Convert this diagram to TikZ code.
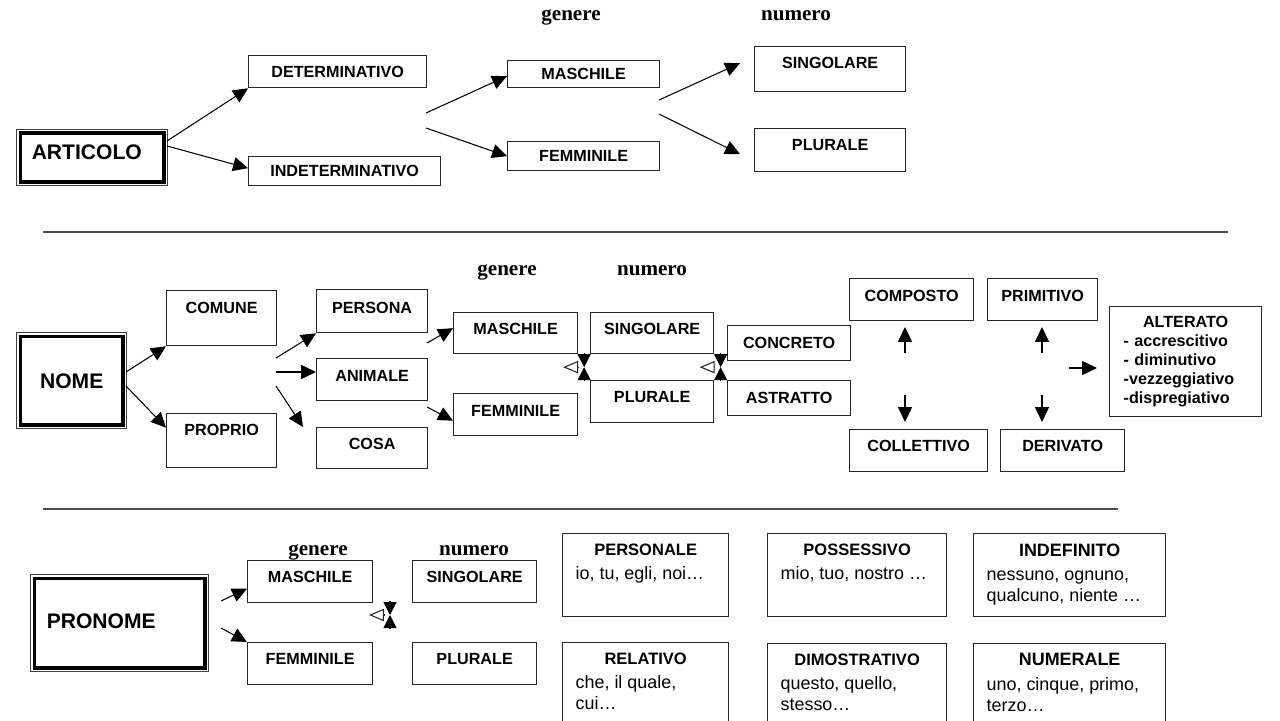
\documentclass[tikz,border=0pt]{standalone}
\usepackage{fontspec}
\setmainfont{Liberation Serif}
\setsansfont{Liberation Sans}
\usetikzlibrary{arrows.meta,calc,fit}
\tikzset{
    box/.style      = {draw=black!85, line width=0.75pt, inner sep=0pt, anchor=north west, align=center,
                       font=\sffamily\bfseries\fontsize{9.2}{11}\selectfont},
    mainbox/.style  = {box, draw=black, line width=2pt, font=\sffamily\bfseries\fontsize{12}{14}\selectfont},
    frame/.style    = {draw=black!75, line width=0.6pt, inner sep=0.035cm},
    catlabel/.style = {anchor=base, font=\rmfamily\bfseries\fontsize{12}{14}\selectfont},
    listbox/.style  = {draw=black!85, line width=0.75pt, anchor=north west, inner xsep=0.26cm, inner ysep=0.2cm,
                       font=\sffamily\fontsize{10.2}{12}\selectfont},
    arr/.style      = {-{Triangle[length=8.5pt,width=8pt]}, line width=0.6pt},
    hgtip/.style    = {-{Triangle[length=7.4pt,width=7.4pt]}, line width=0.6pt},
    hgopen/.style   = {-{Triangle[open,length=8.5pt,width=7pt]}, line width=0.6pt, draw=black!85},
    sepline/.style  = {draw=black!70, line width=0.6pt}
}
% header + lines of a pronoun box
\newcommand{\listtext}[4][9.4]{\parbox[c][1.26cm][t]{#2}{{\centering\bfseries\fontsize{#1}{11.5}\selectfont #3\par}\vspace{2pt}\fontsize{10.2}{12}\selectfont\raggedright #4}}

\begin{document}
\begin{tikzpicture}[x=0.02cm, y=-0.02cm]
    \useasboundingbox (0,0) rectangle (1280,720);
    \clip (0,0) rectangle (1280,720);

    % ARTICOLO
    \node[mainbox, minimum width=2.88cm, minimum height=0.99cm, text width=2.42cm, align=left, text depth=0.22cm] (articolo) at (18.5,131) {ARTICOLO};
    \node[frame, fit=(articolo)] (articolo-f) {};
    \node[box, minimum width=3.56cm, minimum height=0.64cm] (determ) at (248,55) {DETERMINATIVO};
    \node[box, minimum width=3.84cm, minimum height=0.58cm] (indeterm) at (248,156) {INDETERMINATIVO};
    \node[box, minimum width=3.04cm, minimum height=0.54cm] (masc1) at (507,60) {MASCHILE};
    \node[box, minimum width=3.04cm, minimum height=0.58cm] (femm1) at (507,141) {FEMMINILE};
    \node[box, minimum width=3.02cm, minimum height=0.9cm, text depth=0.26cm] (sing1) at (754,46) {SINGOLARE};
    \node[box, minimum width=3.02cm, minimum height=0.86cm, text depth=0.22cm] (plur1) at (754,128) {PLURALE};
    \node[catlabel] (gen1) at (571,20) {genere};
    \node[catlabel] (num1) at (796,20) {numero};

    \coordinate (a1) at (167,141);
    \coordinate (a2) at (167,146);
    \coordinate (g1) at (426,113);
    \coordinate (g2) at (426,128);
    \coordinate (n1) at (659,100);
    \coordinate (n2) at (659,114);
    \draw[arr] (a1) -- (determ.south west);
    \draw[arr] (a2) -- ($(indeterm.west)+(0,-3)$);
    \draw[arr] (g1) -- ($(masc1.west)+(0,2)$);
    \draw[arr] (g2) -- (femm1.west);
    \draw[arr] (n1) -- ($(sing1.west)+(-14,-6)$);
    \draw[arr] (n2) -- ($(plur1.west)+(-14,4)$);

    \draw[sepline] (43,232) -- (1228,232);

    % NOME
    \node[mainbox, minimum width=2.06cm, minimum height=1.78cm] (nome) at (18.5,334.5) {NOME};
    \node[frame, fit=(nome)] (nome-f) {};
    \node[box, minimum width=2.2cm, minimum height=1.1cm, text depth=0.42cm] (comune) at (166,290) {COMUNE};
    \node[box, minimum width=2.2cm, minimum height=1.08cm, text depth=0.44cm] (proprio) at (166,413) {PROPRIO};
    \node[box, minimum width=2.22cm, minimum height=0.86cm, text depth=0.14cm] (persona) at (316,289) {PERSONA};
    \node[box, minimum width=2.22cm, minimum height=0.84cm, text depth=0.16cm] (animale) at (316,358) {ANIMALE};
    \node[box, minimum width=2.22cm, minimum height=0.82cm, text depth=0.18cm] (cosa) at (316,427) {COSA};
    \node[box, minimum width=2.48cm, minimum height=0.82cm, text depth=0.18cm] (masc2) at (453,312) {MASCHILE};
    \node[box, minimum width=2.48cm, minimum height=0.84cm, text depth=0.16cm] (femm2) at (453,393) {FEMMINILE};
    \node[box, minimum width=2.46cm, minimum height=0.82cm, text depth=0.18cm] (sing2) at (590,312) {SINGOLARE};
    \node[box, minimum width=2.46cm, minimum height=0.84cm, text depth=0.2cm] (plur2) at (590,380) {PLURALE};
    \node[box, minimum width=2.46cm, minimum height=0.7cm] (concreto) at (727,325) {CONCRETO};
    \node[box, minimum width=2.46cm, minimum height=0.7cm] (astratto) at (727,380) {ASTRATTO};
    \node[box, minimum width=2.48cm, minimum height=0.84cm, text depth=0.16cm] (composto) at (849,278) {COMPOSTO};
    \node[box, minimum width=2.2cm, minimum height=0.84cm, text depth=0.16cm] (primitivo) at (987,278) {PRIMITIVO};
    \node[box, minimum width=2.76cm, minimum height=0.84cm, text depth=0.2cm] (collettivo) at (849,429) {COLLETTIVO};
    \node[box, minimum width=2.48cm, minimum height=0.84cm, text depth=0.2cm] (derivato) at (1000,429) {DERIVATO};
    \node[box, minimum width=3.04cm, minimum height=2.2cm, text width=2.48cm, align=left,
          font=\sffamily\bfseries\fontsize{9.2}{10.8}\selectfont] (alterato) at (1109,306)
          {{\centering ALTERATO\par}- accrescitivo\\- diminutivo\\-vezzeggiativo\\-dispregiativo};
    \node[catlabel] (gen2) at (507,275) {genere};
    \node[catlabel] (num2) at (652,275) {numero};

    \coordinate (b1) at (126,372);
    \coordinate (b2) at (126,386);
    \coordinate (c1) at (276,358);
    \coordinate (c2) at (276,372);
    \coordinate (c3) at (276,386);
    \coordinate (d1) at (427,343);
    \coordinate (d2) at (427,407);
    \draw[arr] (b1) -- (comune.south west);
    \draw[arr] (b2) -- ($(proprio.west)+(0,-13)$);
    \draw[arr] (c1) -- (persona.south west);
    \draw[arr] (c2) -- (c2 -| animale.west);
    \draw[arr] (c3) -- ($(cosa.north west)+(-13,0)$);
    \draw[arr] (d1) -- ($(masc2.west)+(0,-5)$);
    \draw[arr] (d2) -- ($(femm2.west)+(0,6)$);

    \coordinate (up1) at (905,353);
    \coordinate (dn1) at (905,395);
    \coordinate (up2) at (1042,353);
    \coordinate (dn2) at (1042,395);
    \coordinate (rt) at (1069,368);
    \draw[arr] (up1) -- ++(0,-26);
    \draw[arr] (dn1) -- ++(0,27);
    \draw[arr] (up2) -- ++(0,-26);
    \draw[arr] (dn2) -- ++(0,27);
    \draw[arr] (rt) -- ++(28,0);

    \draw[sepline] (43,509) -- (1118,509);

    % PRONOME
    \node[mainbox, minimum width=3.42cm, minimum height=1.8cm, text width=2.92cm, align=left, text depth=0.1cm] (pronome) at (32.5,576.5) {PRONOME};
    \node[frame, fit=(pronome)] (pronome-f) {};
    \node[box, minimum width=2.5cm, minimum height=0.84cm, text depth=0.2cm] (masc3) at (247,560) {MASCHILE};
    \node[box, minimum width=2.5cm, minimum height=0.84cm, text depth=0.2cm] (femm3) at (247,642) {FEMMINILE};
    \node[box, minimum width=2.48cm, minimum height=0.84cm, text depth=0.2cm] (sing3) at (412,560) {SINGOLARE};
    \node[box, minimum width=2.48cm, minimum height=0.84cm, text depth=0.2cm] (plur3) at (412,642) {PLURALE};
    \node[catlabel] (gen3) at (318,555) {genere};
    \node[catlabel] (num3) at (474,555) {numero};

    \coordinate (e1) at (221,601);
    \coordinate (e2) at (221,628);
    \draw[arr] (e1) -- ($(masc3.west)+(0,7)$);
    \draw[arr] (e2) -- (femm3.north west);

    \node[listbox] (personale) at (562,533) {\listtext{2.8cm}{PERSONALE}{io, tu, egli, noi…}};
    \node[listbox] (possessivo) at (767,533) {\listtext{3.06cm}{POSSESSIVO}{mio, tuo, nostro …}};
    \node[listbox] (indefinito) at (973,533) {\listtext[10.2]{3.32cm}{INDEFINITO}{nessuno, ognuno,\\qualcuno, niente …}};
    \node[listbox] (relativo) at (562,642) {\listtext{2.8cm}{RELATIVO}{che, il quale,\\cui…}};
    \node[listbox] (dimostrativo) at (767,643) {\listtext{3.06cm}{DIMOSTRATIVO}{questo, quello,\\stesso…}};
    \node[listbox] (numerale) at (973,643) {\listtext[10.2]{3.32cm}{NUMERALE}{uno, cinque, primo,\\terzo…}};

    % links between genere and numero
    \coordinate (hg1) at ($(masc2.south east)!0.5!(plur2.north west)$);
    \coordinate (hg2) at ($(sing2.south east)!0.5!(astratto.north west)$);
    \coordinate (hg3) at (390,615);
    \foreach \c in {hg1,hg2,hg3} {
        \draw[hgtip] ($(\c)+(0,-14)$) -- (\c);
        \draw[hgtip] ($(\c)+(0,14)$) -- (\c);
        \draw[hgopen] ($(\c)+(-6,0)$) -- ($(\c)+(-21,0)$);
    }
\end{tikzpicture}
\end{document}
